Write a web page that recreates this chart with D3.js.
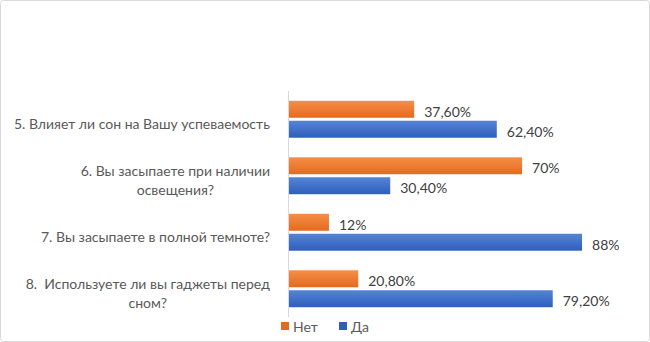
<!DOCTYPE html>
<html>
<head>
<meta charset="utf-8">
<script src="https://cdn.jsdelivr.net/npm/d3@7"></script>
<style>
  body { margin: 0; background: #fff; }
  svg { display: block; font-family: Lato, 'Open Sans', sans-serif; }
  text { white-space: pre; }
</style>
</head>
<body>
<div id="chart-area"></div>
<script>
const canvas_width = 650;
const canvas_height = 342;

const categories = [
    '5. Влияет ли сон на Вашу успеваемость',
    '6. Вы засыпаете при наличии\nосвещения?',
    '7. Вы засыпаете в полной темноте?',
    '8.  Используете ли вы гаджеты перед\nсном?'
];
const seriesNames = ['Нет', 'Да'];
const netValues = [37.6, 70, 12, 20.8];
const daValues = [62.4, 30.4, 88, 79.2];
const valueLabels = {
    'Нет': ['37,60%', '70%', '12%', '20,80%'],
    'Да': ['62,40%', '30,40%', '88%', '79,20%']
};
const colors = { 'Нет': ['#F68E48', '#E46A1E'], 'Да': ['#5584D6', '#2F5EBD'] };

const plot = { left: 289, right: 622, top: 91, bottom: 317 };

let svg = d3.select('#chart-area').append('svg')
    .attr('width', canvas_width)
    .attr('height', canvas_height);

svg.append('rect')
    .attr('x', 0.5).attr('y', 0.5)
    .attr('width', canvas_width - 1).attr('height', canvas_height - 1)
    .attr('rx', 3)
    .attr('fill', '#fff')
    .attr('stroke', '#d9d9d9');

let defs = svg.append('defs');
seriesNames.forEach((s, i) => {
    let g = defs.append('linearGradient')
        .attr('id', 'grad' + i)
        .attr('x1', 0).attr('y1', 0).attr('x2', 0).attr('y2', 1);
    g.append('stop').attr('offset', '0%').attr('stop-color', colors[s][0]);
    g.append('stop').attr('offset', '100%').attr('stop-color', colors[s][1]);
});

let x = d3.scaleLinear()
    .domain([0, 100])
    .range([plot.left, plot.right]);

let y = d3.scaleBand()
    .domain(categories)
    .range([plot.top, plot.bottom]);

let inner = d3.scaleBand()
    .domain(seriesNames)
    .range([0, y.bandwidth()])
    .paddingInner(0.15)
    .paddingOuter(0.49);

let data = [];
categories.forEach((c, i) => {
    data.push({ cat: c, series: 'Нет', value: netValues[i], label: valueLabels['Нет'][i] });
    data.push({ cat: c, series: 'Да', value: daValues[i], label: valueLabels['Да'][i] });
});

svg.selectAll('rect.bar').data(data)
    .enter().append('rect')
    .attr('class', 'bar')
    .attr('x', x(0))
    .attr('y', (d) => y(d.cat) + inner(d.series))
    .attr('width', (d) => x(d.value) - x(0))
    .attr('height', inner.bandwidth())
    .attr('fill', (d) => 'url(#grad' + seriesNames.indexOf(d.series) + ')');

svg.selectAll('text.value').data(data)
    .enter().append('text')
    .attr('class', 'value')
    .attr('x', (d) => x(d.value) + 10)
    .attr('y', (d) => y(d.cat) + inner(d.series) + inner.bandwidth() / 2 + 2)
    .attr('dominant-baseline', 'central')
    .attr('font-size', '14px')
    .attr('fill', '#404040')
    .text((d) => d.label);

// category axis line
svg.append('line')
    .attr('x1', plot.left - 0.5).attr('x2', plot.left - 0.5)
    .attr('y1', plot.top).attr('y2', plot.bottom)
    .attr('stroke', '#d9d9d9');

// category labels: centred multi-line block whose right edge sits at 270
categories.forEach((c) => {
    let lines = c.split('\n');
    let t = svg.append('text')
        .attr('font-size', '14px')
        .attr('fill', '#595959')
        .attr('text-anchor', 'middle');
    let cy = y(c) + y.bandwidth() / 2 + 4;
    let lh = 19;
    lines.forEach((ln, j) => {
        t.append('tspan')
            .attr('x', 0)
            .attr('y', cy + (j - (lines.length - 1) / 2) * lh)
            .attr('dominant-baseline', 'central')
            .text(ln);
    });
    let w = t.node().getBBox().width;
    t.selectAll('tspan').attr('x', 270 - w / 2);
});

// legend
let legend = svg.append('g');
let legendX = [281, 339];
seriesNames.forEach((s, i) => {
    legend.append('rect')
        .attr('x', legendX[i]).attr('y', 322)
        .attr('width', 8).attr('height', 8)
        .attr('fill', colors[s][1]);
    legend.append('text')
        .attr('x', legendX[i] + 12).attr('y', 326)
        .attr('dominant-baseline', 'central')
        .attr('font-size', '14px')
        .attr('fill', '#595959')
        .text(s);
});
</script>
</body>
</html>
